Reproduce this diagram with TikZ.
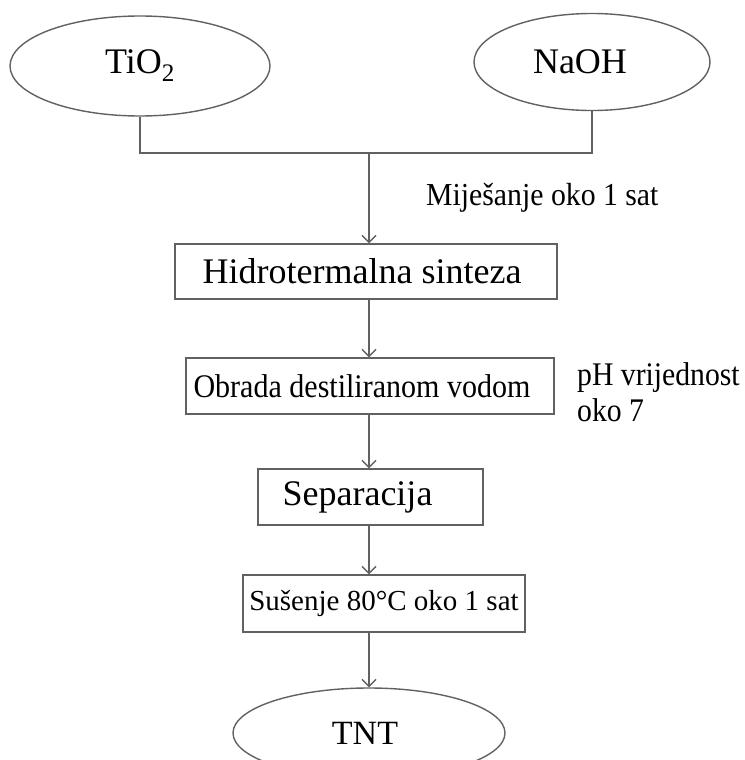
\documentclass[tikz,border=0pt]{standalone}
\usepackage{fontspec}
\usepackage{graphicx}
\setmainfont{Liberation Serif}
\usetikzlibrary{shapes.geometric,arrows.meta}
\newcommand{\uzak}[2]{\scalebox{#1}[1]{#2}}
\begin{document}
\begin{tikzpicture}[x=1pt,y=-1pt,
  line/.style={draw=black!62, line width=1.4pt},
  arr/.style={line, -{Straight Barb[length=7pt,width=14pt]}},
  oval/.style={ellipse, line, inner sep=0pt},
  box/.style={rectangle, line, inner sep=0pt},
  note/.style={anchor=west, inner sep=0pt, align=left, font=\fontsize{33}{34}\selectfont}]
\clip (0,0) rectangle (744,760);
%polazne tvari
\node[oval, minimum width=260pt, minimum height=100pt, font=\fontsize{36}{40}\selectfont] (tio) at (140,66) {TiO\textsubscript{2}};
\node[oval, minimum width=236pt, minimum height=97pt, font=\fontsize{36}{40}\selectfont] (naoh) at (592,62) {NaOH\kern24pt};
\coordinate (hub) at (369,153);
\draw[line] (tio.south) |- (hub) -| (naoh.south);
\node[note, font=\fontsize{32}{32}\selectfont] (mix) at (426,198) {\uzak{0.93}{Miješanje oko 1 sat}};
%koraci
\node[box, minimum width=382pt, minimum height=55pt, font=\fontsize{36}{40}\selectfont] (hidro) at (366,271.5) {Hidrotermalna sinteza\kern8pt};
\node[box, minimum width=368pt, minimum height=56pt, font=\fontsize{33}{34}\selectfont] (obrada) at (370,386) {\uzak{0.91}{Obrada destiliranom vodom}\kern16pt};
\node[note] (ph) at (577,392) {\uzak{0.9}{pH vrijednost}\\[2pt]\uzak{0.9}{oko 7}};
\node[box, minimum width=225pt, minimum height=56pt, font=\fontsize{36}{40}\selectfont] (sep) at (370.5,497) {Separacija\kern26pt};
\node[box, minimum width=282pt, minimum height=57pt, font=\fontsize{29}{33}\selectfont] (susenje) at (384,603.5) {Sušenje 80°C oko 1 sat};
%produkt
\node[oval, minimum width=272pt, minimum height=90pt, font=\fontsize{34}{40}\selectfont] (tnt) at (369,733) {TNT\kern8pt};
%strelice
\draw[arr] (hub) -- (hidro.north -| hub);
\draw[arr] (hidro.south -| hub) -- (obrada.north -| hub);
\draw[arr] (obrada.south -| hub) -- (sep.north -| hub);
\draw[arr] (sep.south -| hub) -- (susenje.north -| hub);
\draw[arr] (susenje.south -| hub) -- (tnt.north -| hub);
\end{tikzpicture}
\end{document}
